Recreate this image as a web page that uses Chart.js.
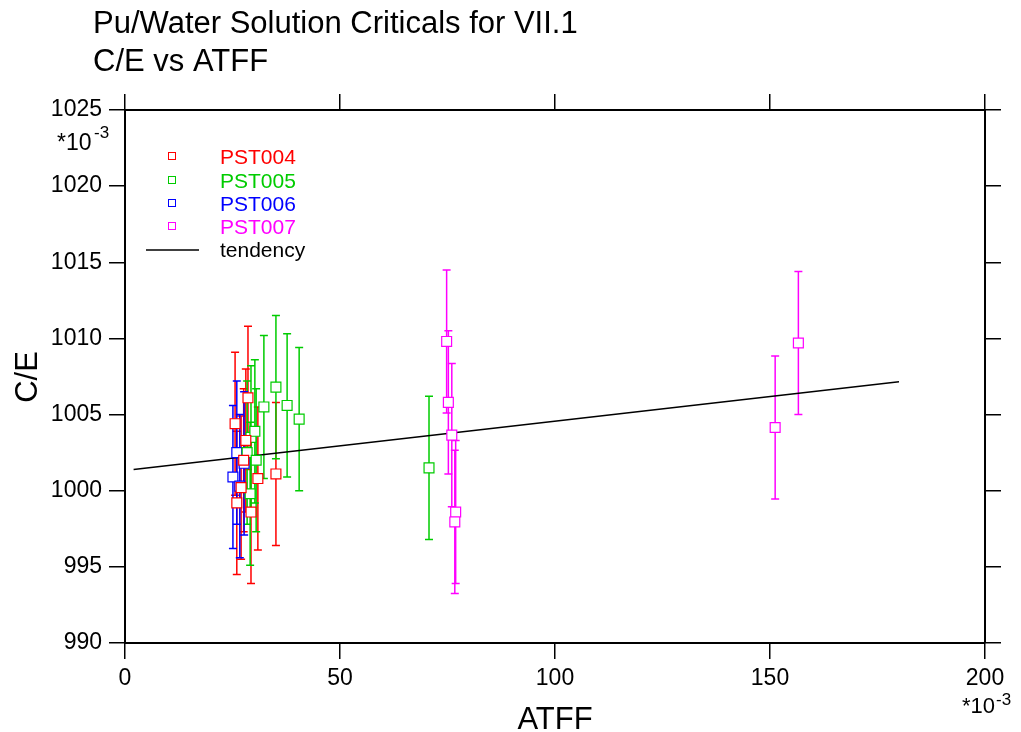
<!DOCTYPE html>
<html>
<head>
<meta charset="utf-8">
<script src="https://cdn.jsdelivr.net/npm/chart.js@4.4.1/dist/chart.umd.min.js"></script>
<style>
  html, body { margin: 0; padding: 0; background: #fff; }
  #wrap { width: 1021px; height: 732px; }
</style>
</head>
<body>
<div id="wrap"><canvas id="c" width="1021" height="732"></canvas></div>
<script>
// ## data (values in units of 1e-3) ##
const seriesNames = ["PST004", "PST005", "PST006", "PST007"];
const seriesColors = ["#ff0000", "#00cc00", "#0000ff", "#ff00ff"];

const pst004X = [25.6, 26.0, 27.0, 27.6, 28.1, 28.6, 29.3, 30.9, 35.1];
const pst004Y = [1004.4, 999.2, 1000.2, 1002.0, 1003.3, 1006.1, 998.6, 1000.8, 1001.1];
const pst004Err = [4.7, 4.7, 4.7, 4.7, 4.7, 4.7, 4.7, 4.7, 4.7];

const pst005X = [28.4, 29.1, 29.3, 30.2, 30.5, 32.3, 35.1, 37.7, 40.5, 70.7];
const pst005Y = [1002.5, 999.8, 1003.5, 1003.9, 1002.0, 1005.5, 1006.8, 1005.6, 1004.7, 1001.5];
const pst005Err = [4.7, 4.7, 4.7, 4.7, 4.7, 4.7, 4.7, 4.7, 4.7, 4.7];

const pst006X = [25.1, 26.0, 26.7, 27.7];
const pst006Y = [1000.9, 1002.5, 1000.3, 1001.8];
const pst006Err = [4.7, 4.7, 4.7, 4.7];

const pst007X = [74.8, 75.2, 76.0, 76.9, 76.7, 151.2, 156.6];
const pst007Y = [1009.8, 1005.8, 1003.65, 998.6, 997.95, 1004.15, 1009.7];
const pst007Err = [4.7, 4.7, 4.7, 4.7, 4.7, 4.7, 4.7];

const tendencyX = [2, 180];
const tendencyY = [1001.4, 1007.15];

const xTicks = [0, 50, 100, 150, 200];
const yTicks = [990, 995, 1000, 1005, 1010, 1015, 1020, 1025];

const allX = [pst004X, pst005X, pst006X, pst007X];
const allY = [pst004Y, pst005Y, pst006Y, pst007Y];
const allErr = [pst004Err, pst005Err, pst006Err, pst007Err];

const FONT = "'Liberation Sans', Arial, Helvetica, sans-serif";

function toPoints(xs, ys) {
  return xs.map((x, i) => ({ x: x, y: ys[i] }));
}

const datasets = seriesNames.map((name, s) => ({
  label: name,
  data: toPoints(allX[s], allY[s]),
  err: allErr[s],
  pointStyle: "rect",
  pointRadius: 7,
  pointHoverRadius: 7,
  borderWidth: 1.2,
  borderColor: seriesColors[s],
  backgroundColor: "#ffffff",
}));

datasets.push({
  type: "line",
  label: "tendency",
  data: toPoints(tendencyX, tendencyY),
  borderColor: "#000000",
  borderWidth: 1.5,
  pointRadius: 0,
  fill: false,
});

// error bars, drawn under the markers
const errorBars = {
  id: "errorBars",
  beforeDatasetsDraw(chart) {
    const ctx = chart.ctx;
    const xs = chart.scales.x;
    const ys = chart.scales.y;
    ctx.save();
    ctx.lineWidth = 1.5;
    chart.data.datasets.forEach((ds) => {
      if (!ds.err) return;
      ctx.strokeStyle = ds.borderColor;
      ds.data.forEach((p, i) => {
        const px = xs.getPixelForValue(p.x);
        const top = ys.getPixelForValue(p.y + ds.err[i]);
        const bot = ys.getPixelForValue(p.y - ds.err[i]);
        ctx.beginPath();
        ctx.moveTo(px, top);
        ctx.lineTo(px, bot);
        ctx.moveTo(px - 4, top);
        ctx.lineTo(px + 4, top);
        ctx.moveTo(px - 4, bot);
        ctx.lineTo(px + 4, bot);
        ctx.stroke();
      });
    });
    ctx.restore();
  },
};

// titles, axis titles, exponent notes and legend
const texts = {
  id: "texts",
  afterDraw(chart) {
    const ctx = chart.ctx;
    ctx.save();
    ctx.fillStyle = "#000";
    ctx.textBaseline = "alphabetic";
    ctx.textAlign = "left";
    ctx.font = "31px " + FONT;
    ctx.fillText("Pu/Water Solution Criticals for VII.1", 93, 33);
    ctx.fillText("C/E vs ATFF", 93, 71);

    // axis titles
    ctx.font = "31px " + FONT;
    ctx.textAlign = "center";
    ctx.fillText("ATFF", 555, 729);
    ctx.save();
    ctx.translate(37, 377);
    ctx.rotate(-Math.PI / 2);
    ctx.fillText("C/E", 0, 0);
    ctx.restore();

    // *10^-3 notes
    ctx.textAlign = "left";
    ctx.font = "23px " + FONT;
    ctx.fillText("*10", 57, 150);
    ctx.font = "17px " + FONT;
    ctx.fillText("-3", 94, 138);
    ctx.font = "22px " + FONT;
    ctx.fillText("*10", 962, 713);
    ctx.font = "17px " + FONT;
    ctx.fillText("-3", 996, 705);

    // legend
    const rows = [156, 180, 203, 226];
    ctx.font = "21px " + FONT;
    seriesNames.forEach((name, s) => {
      ctx.strokeStyle = seriesColors[s];
      ctx.lineWidth = 1;
      ctx.strokeRect(168.5, rows[s] - 3.5, 7, 7);
      ctx.fillStyle = seriesColors[s];
      ctx.fillText(name, 220, rows[s] + 8);
    });
    ctx.strokeStyle = "#000";
    ctx.lineWidth = 1.5;
    ctx.beginPath();
    ctx.moveTo(146, 250);
    ctx.lineTo(199, 250);
    ctx.stroke();
    ctx.fillStyle = "#000";
    ctx.fillText("tendency", 220, 257);
    ctx.restore();
  },
};

const gridOpts = {
  drawOnChartArea: false,
  drawTicks: true,
  tickLength: 16,
  color: "#000",
  lineWidth: 1.5,
};
const borderOpts = { display: true, color: "#000", width: 2 };
const plainLabel = (v) => String(v);

new Chart(document.getElementById("c"), {
  type: "scatter",
  data: { datasets: datasets },
  plugins: [errorBars, texts],
  options: {
    responsive: false,
    animation: false,
    devicePixelRatio: 1,
    layout: { padding: { top: 94, right: 20, left: 0, bottom: 0 } },
    plugins: { legend: { display: false }, tooltip: { enabled: false } },
    scales: {
      x: {
        type: "linear",
        position: "bottom",
        min: xTicks[0],
        max: xTicks[xTicks.length - 1],
        afterBuildTicks: (sc) => { sc.ticks = xTicks.map((v) => ({ value: v })); },
        afterFit: (sc) => { sc.height = 89; },
        ticks: { color: "#000", padding: 6, maxRotation: 0, callback: plainLabel, font: { family: FONT, size: 23 } },
        grid: gridOpts,
        border: borderOpts,
      },
      x2: {
        type: "linear",
        position: "top",
        min: xTicks[0],
        max: xTicks[xTicks.length - 1],
        afterBuildTicks: (sc) => { sc.ticks = xTicks.map((v) => ({ value: v })); },
        afterFit: (sc) => { sc.height = 16; },
        ticks: { display: false },
        grid: gridOpts,
        border: borderOpts,
      },
      y: {
        type: "linear",
        position: "left",
        min: yTicks[0],
        max: yTicks[yTicks.length - 1],
        afterBuildTicks: (sc) => { sc.ticks = yTicks.map((v) => ({ value: v })); },
        afterFit: (sc) => { sc.width = 125; },
        ticks: { color: "#000", padding: 7, callback: plainLabel, font: { family: FONT, size: 23 } },
        grid: gridOpts,
        border: borderOpts,
      },
      y2: {
        type: "linear",
        position: "right",
        min: yTicks[0],
        max: yTicks[yTicks.length - 1],
        afterBuildTicks: (sc) => { sc.ticks = yTicks.map((v) => ({ value: v })); },
        afterFit: (sc) => { sc.width = 16; },
        ticks: { display: false },
        grid: gridOpts,
        border: borderOpts,
      },
    },
  },
});
</script>
</body>
</html>
